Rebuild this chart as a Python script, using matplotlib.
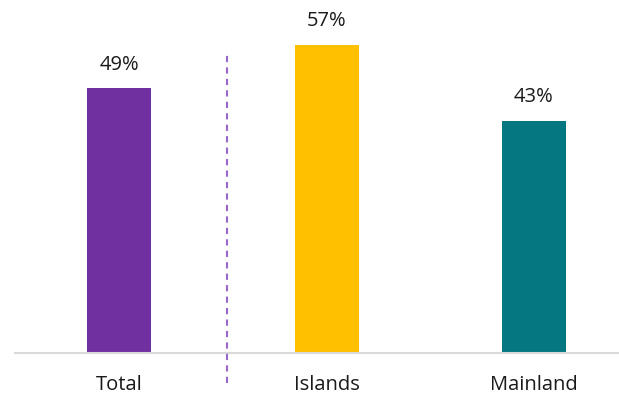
import matplotlib
matplotlib.use("Agg")
import matplotlib.pyplot as plt

categories = ["Total", "Islands", "Mainland"]
values = [49, 57, 43]
labels = ["49%", "57%", "43%"]
colors = ["#7030A0", "#FFC000", "#047780"]

plt.rcParams['font.family'] = ['Open Sans', 'DejaVu Sans']

W, H = 619, 396
fig = plt.figure(figsize=(W/100, H/100), dpi=100)
bottom_px = 353
top_px = 10
ax = fig.add_axes([15/W, (H-bottom_px)/H, (619-15)/W, (bottom_px-top_px)/H])

pxu = 5.4
spacing = 207.5
ax.set_xlim((15-119)/spacing, (619-119)/spacing)
ax.set_ylim(0, (bottom_px-top_px)/pxu)

x = list(range(len(categories)))
ax.bar(x, values, width=64/spacing, color=colors, zorder=2)
for xi, v, lab in zip(x, values, labels):
    ax.text(xi, v + 4.4, lab, ha='center', va='center', fontsize=14.5, color='#1A1A1A')
for xi, c in zip(x, categories):
    ax.text(xi, -(385-bottom_px)/pxu, c, ha='center', va='center', fontsize=14.5, color='#1A1A1A')

xd = (227-119)/spacing
ax.plot([xd, xd], [-(383-bottom_px)/pxu, (bottom_px-52)/pxu], color='#9966CC',
        linestyle=(0, (3, 2.5)), linewidth=1.5, clip_on=False, zorder=3)

for s in ['top', 'right', 'left']:
    ax.spines[s].set_visible(False)
ax.spines['bottom'].set_color('#D9D9D9')
ax.spines['bottom'].set_linewidth(1.5)
ax.set_xticks([])
ax.set_yticks([])

fig.savefig("out.png", dpi=100)
